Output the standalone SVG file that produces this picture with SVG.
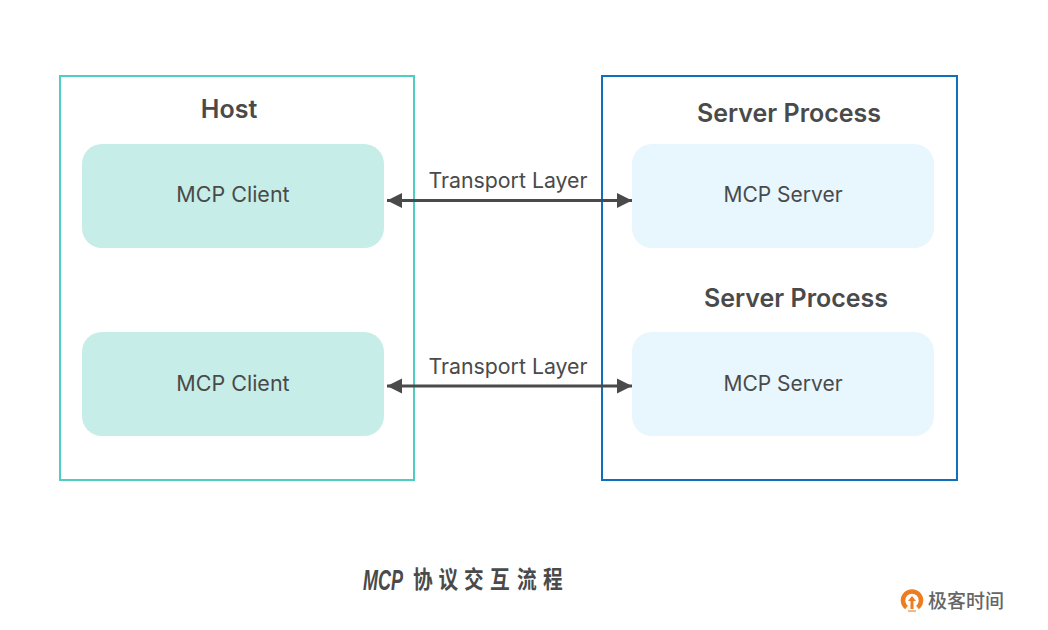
<svg xmlns="http://www.w3.org/2000/svg" width="1048" height="630" viewBox="0 0 1048 630">
<style>
text{font-family:Inter,"Liberation Sans","Noto Sans CJK SC",sans-serif;fill:#4a4a4a}
.t{font-size:25px;font-weight:600;text-anchor:middle}
.n{font-size:21.5px;text-anchor:middle}
.m{font-size:21px;text-anchor:middle}
.l{font-size:21.300px;text-anchor:middle}
.c{fill:#c6ede8}.s{fill:#e8f6fe}
.cn{stroke:#4a4a4a;stroke-width:3;fill:none;marker-start:url(#as);marker-end:url(#ae)}
.z{font-family:"Noto Sans CJK SC",sans-serif;font-size:24px;font-weight:700}
</style>
<defs>
<marker id="ae" markerUnits="userSpaceOnUse" markerWidth="16" markerHeight="16" refX="15" refY="8" orient="auto"><path d="M0 .5L15 8L0 15.500Z" fill="#4a4a4a"/></marker>
<marker id="as" markerUnits="userSpaceOnUse" markerWidth="16" markerHeight="16" refX="1" refY="8" orient="auto"><path d="M16 .5L1 8L16 15.500Z" fill="#4a4a4a"/></marker>
</defs>
<rect width="1048" height="630" fill="#fff"/>
<g id="host"><rect x="60" y="76" width="354" height="404" fill="none" stroke="#4ecdc0" stroke-width="2"/><text class="t" x="229" y="118">Host</text></g>
<g id="server-box"><rect x="602" y="76" width="355" height="404" fill="none" stroke="#0f6fbc" stroke-width="2"/></g>
<g id="server-process-1"><text class="t" x="789" y="122">Server Process</text></g>
<g id="server-process-2"><text class="t" x="796" y="307">Server Process</text></g>
<g id="client-1"><rect class="c" x="82" y="144" width="302" height="104" rx="20"/><text class="n" x="233" y="202">MCP Client</text></g>
<g id="client-2"><rect class="c" x="82" y="332" width="302" height="104" rx="20"/><text class="n" x="233" y="391">MCP Client</text></g>
<g id="server-1"><rect class="s" x="632" y="144" width="302" height="104" rx="20"/><text class="m" x="783" y="202">MCP Server</text></g>
<g id="server-2"><rect class="s" x="632" y="332" width="302" height="104" rx="20"/><text class="m" x="783" y="391">MCP Server</text></g>
<g id="connectors"><path class="cn" d="M387 200.500H632"/><path class="cn" d="M387 386H632"/></g>
<text class="l" x="508" y="188">Transport Layer</text>
<text class="l" x="508" y="374">Transport Layer</text>
<text transform="translate(363 590) scale(.6 1)" style="font-family:'Liberation Sans',sans-serif" font-size="30" font-weight="700" font-style="italic">MCP</text>
<text class="z" transform="translate(413 588) scale(.82 1)">协</text>
<text class="z" transform="translate(438.500 588) scale(.82 1)">议</text>
<text class="z" transform="translate(464 588) scale(.82 1)">交</text>
<text class="z" transform="translate(490 588) scale(.82 1)">互</text>
<text class="z" transform="translate(517 588) scale(.82 1)">流</text>
<text class="z" transform="translate(543 588) scale(.82 1)">程</text>
<g id="logo"><path d="M906.500 607.500A9 9 0 1 1 917.500 607.500" fill="none" stroke="#ee7d22" stroke-width="4.500"/><path d="M912 598V609" stroke="#ee7d22" stroke-width="3"/><path d="M908 601L912 596L916 601Z" fill="#ee7d22"/><path d="M908 611H916" stroke="#f0a060" stroke-width="1.500"/><text x="928" y="608" font-size="19" font-weight="500" style="font-family:'Noto Sans CJK SC',sans-serif;fill:#666">极客时间</text></g>
</svg>
